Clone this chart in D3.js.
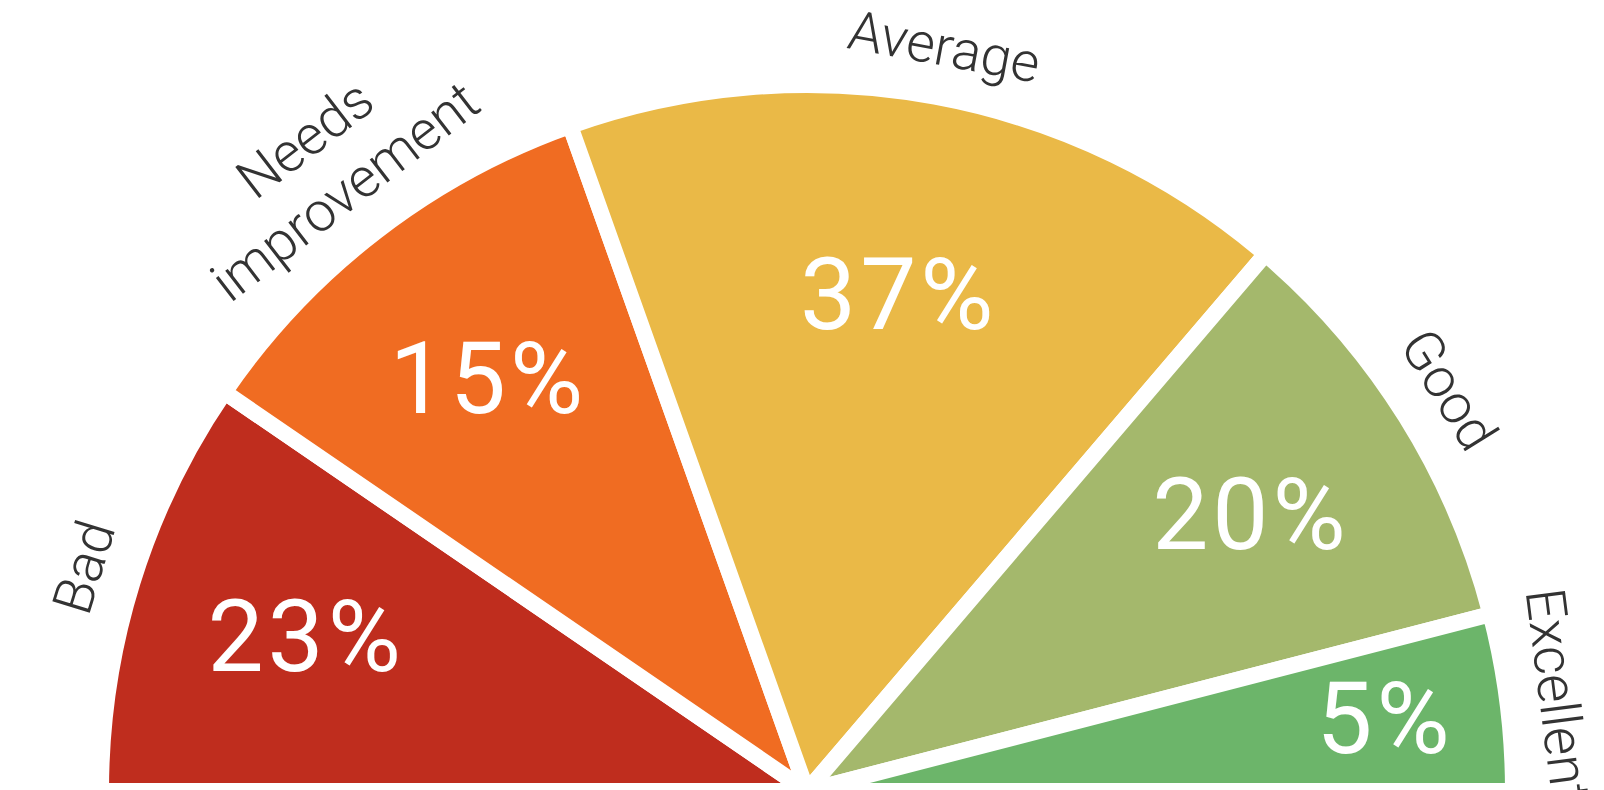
<!DOCTYPE html>
<html>
<head>
<meta charset="utf-8">
<script src="https://cdn.jsdelivr.net/npm/d3@7"></script>
<style>
  html, body { margin: 0; padding: 0; background: #fff; }
  svg { display: block; }
</style>
</head>
<body>
<script>
// ---- data ----
const categories = ["Bad", "Needs improvement", "Average", "Good", "Excellent"];
const labelLines = [["Bad"], ["Needs", "improvement"], ["Average"], ["Good"], ["Excellent"]];
const percentValues = [23, 15, 37, 20, 5];
// size of each slice of the half circle (degrees)
const sliceShares = [34.4, 36.0, 60.1, 35.0, 14.5];

// ---- style ----
const colors = ["#BF2D1E", "#F06C22", "#EAB947", "#A4B86C", "#6CB56A"];

const W = 1604, H = 790;
const cx = 807, cy = 791;
const gap = 16;
const R = 706;              // outer radius (stroke trims gap/2)
const Rv = R - gap / 2;     // visible radius
const outerLabelR = 738;    // baseline radius of the last label line
const lineStep = 66;
const pctSize = 100;

const svg = d3.select("body").append("svg")
  .attr("width", W).attr("height", H);

const g = svg.append("g").attr("transform", `translate(${cx},${cy})`);

const pie = d3.pie()
  .sort(null)
  .startAngle(-Math.PI / 2)
  .endAngle(Math.PI / 2)
  .value((d, i) => sliceShares[i]);

const arcs = pie(categories);
const arc = d3.arc().innerRadius(0).outerRadius(R);

g.selectAll("path.slice")
  .data(arcs)
  .join("path")
  .attr("class", "slice")
  .attr("d", arc)
  .attr("fill", (d, i) => colors[i])
  .attr("stroke", "#fff")
  .attr("stroke-width", gap)
  .attr("stroke-linejoin", "miter");

// outer category labels, rotated along the tangent
arcs.forEach((d, i) => {
  const a = (d.startAngle + d.endAngle) / 2 * 180 / Math.PI;
  const lines = labelLines[i];
  const n = lines.length;
  lines.forEach((line, j) => {
    const r = outerLabelR + (n - 1 - j) * lineStep;
    g.append("text")
      .attr("transform", `rotate(${a}) translate(0,${-r})`)
      .attr("text-anchor", "middle")
      .attr("font-family", "Roboto, 'Liberation Sans', sans-serif")
      .attr("font-weight", 300)
      .attr("font-size", 55)
      .attr("fill", "#333")
      .text(line);
  });
});

// percentage labels inside slices (narrow slices push the label outward)
const labelArcFrac = d => {
  const spanDeg = (d.endAngle - d.startAngle) * 180 / Math.PI;
  return 0.69 + 2.1 / spanDeg;
};
g.selectAll("text.pct")
  .data(arcs)
  .join("text")
  .attr("class", "pct")
  .each(function (d, i) {
    const r = Rv * labelArcFrac(d);
    const ang = (d.startAngle + d.endAngle) / 2;
    const la = d3.arc().innerRadius(r).outerRadius(r);
    const [x, y] = la.centroid({ startAngle: ang, endAngle: ang });
    d3.select(this)
      .attr("x", x)
      .attr("y", y + 0.355 * pctSize)
      .text(percentValues[i] + "%");
  })
  .attr("text-anchor", "middle")
  .attr("font-family", "Roboto, 'Liberation Sans', sans-serif")
  .attr("font-weight", 400)
  .attr("letter-spacing", 4)
  .attr("font-size", pctSize)
  .attr("fill", "#fff");
</script>
</body>
</html>
